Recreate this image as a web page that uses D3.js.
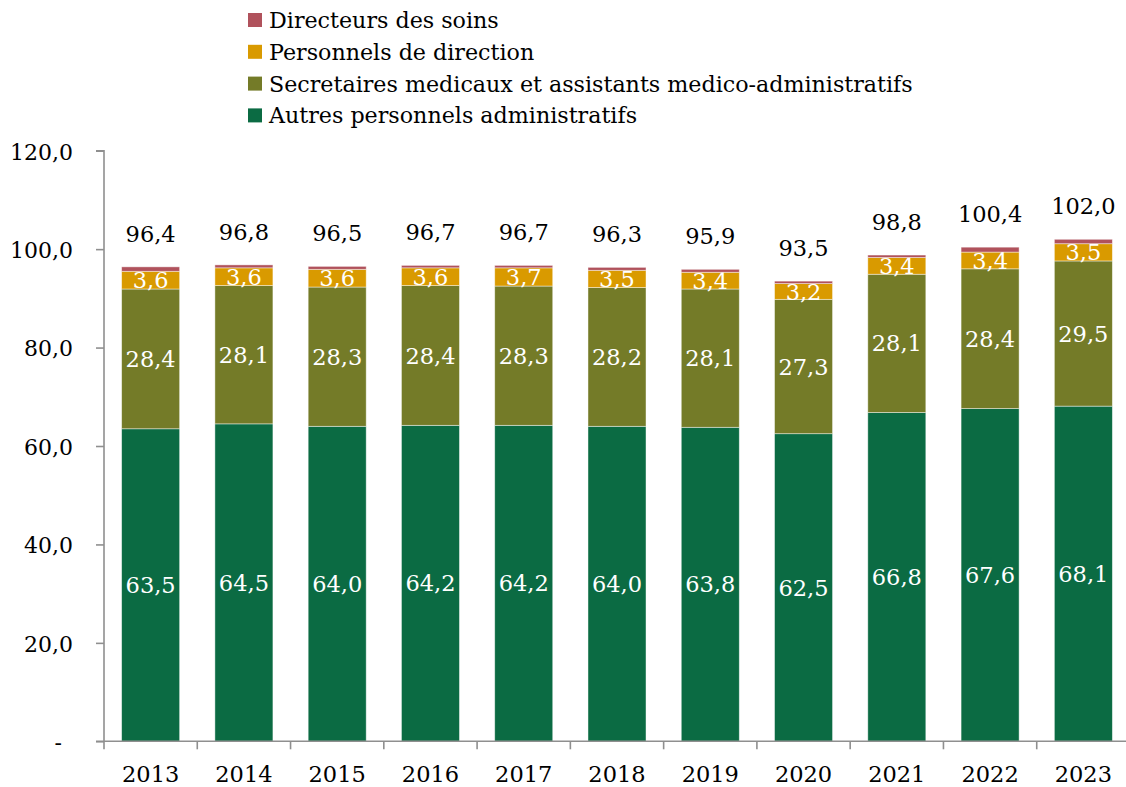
<!DOCTYPE html>
<html>
<head>
<meta charset="utf-8">
<script src="https://cdn.jsdelivr.net/npm/d3@7"></script>
<style>
    body { margin: 0; background: #fff; }
    text { font-family: "DejaVu Serif", serif; }
</style>
</head>
<body>
<div id="chart"></div>
<script>

//data
const years = ["2013", "2014", "2015", "2016", "2017", "2018", "2019", "2020", "2021", "2022", "2023"];
const autres = [63.5, 64.5, 64.0, 64.2, 64.2, 64.0, 63.8, 62.5, 66.8, 67.6, 68.1];
const secretaires = [28.4, 28.1, 28.3, 28.4, 28.3, 28.2, 28.1, 27.3, 28.1, 28.4, 29.5];
const direction = [3.6, 3.6, 3.6, 3.6, 3.7, 3.5, 3.4, 3.2, 3.4, 3.4, 3.5];
const soins = [0.9, 0.6, 0.6, 0.5, 0.5, 0.6, 0.6, 0.5, 0.5, 1.0, 0.9];
const yTicks = [0, 20, 40, 60, 80, 100, 120];

//series from bottom to top
const series = [
    { name: "Autres personnels administratifs", values: autres, color: "#0b6b43", label: true },
    { name: "Secretaires medicaux et assistants medico-administratifs", values: secretaires, color: "#747b28", label: true },
    { name: "Personnels de direction", values: direction, color: "#d99a00", label: true },
    { name: "Directeurs des soins", values: soins, color: "#b0525c", label: false }
];

const width = 1126, height = 787;

const fmt = v => d3.format(".1f")(v).replace(".", ",");

const svg = d3.select("#chart")
    .append("svg")
    .attr("width", width)
    .attr("height", height);

//scales
const x = d3.scaleBand()
    .domain(years)
    .range([104, 1130])
    .paddingInner(0.378)
    .paddingOuter(0.189);

const y = d3.scaleLinear()
    .domain([0, 120])
    .range([741.3, 150.7]);

//stack the data
let rows = years.map(function (year, i) {
    let row = { year: year };
    series.forEach(s => row[s.name] = s.values[i]);
    return row;
});

const stacked = d3.stack()
    .keys(series.map(s => s.name))(rows);

//y axis
const yAxis = svg.append("g")
    .attr("transform", "translate(104,0)")
    .call(d3.axisLeft(y)
        .tickValues(yTicks)
        .tickSize(8)
        .tickPadding(23)
        .tickFormat(d => d == 0 ? "-" : fmt(d)));

yAxis.selectAll("path, line")
    .attr("stroke", "#8f8f8f")
    .attr("stroke-width", 1.6);

yAxis.selectAll("text")
    .style("font-family", "DejaVu Serif")
    .style("font-size", "22px")
    .attr("fill", "#000")
    .attr("dy", "0.38em")
    .filter(d => d == 0)
    .attr("x", -42);

yAxis.select(".domain")
    .attr("d", "M-8," + y(120) + "H0V" + y(0));

//bars
series.forEach(function (s, k) {

    let layer = svg.append("g");

    layer.selectAll("rect")
        .data(stacked[k])
        .enter()
        .append("rect")
        .attr("x", d => x(d.data.year))
        .attr("width", x.bandwidth())
        .attr("y", d => y(d[1]))
        .attr("height", d => y(d[0]) - y(d[1]))
        .attr("fill", s.color)
        .attr("stroke", "#ffffff")
        .attr("stroke-opacity", 0.55)
        .attr("stroke-width", 0.8);

    if (s.label) {
        layer.selectAll("text")
            .data(stacked[k])
            .enter()
            .append("text")
            .attr("x", d => x(d.data.year) + x.bandwidth() / 2)
            .attr("y", d => (y(d[0]) + y(d[1])) / 2)
            .attr("dy", "0.36em")
            .attr("text-anchor", "middle")
            .attr("fill", "#fff")
            .style("font-size", "22.5px")
            .text(d => fmt(d[1] - d[0]));
    }
});

//totals above the bars
svg.append("g")
    .selectAll("text")
    .data(stacked[stacked.length - 1])
    .enter()
    .append("text")
    .attr("x", d => x(d.data.year) + x.bandwidth() / 2)
    .attr("y", d => y(d[1]) - 25)
    .attr("text-anchor", "middle")
    .attr("fill", "#000")
    .style("font-size", "22.5px")
    .text(d => fmt(d[1]));

//x axis: line, ticks between the years, labels
const xAxis = svg.append("g");

xAxis.append("line")
    .attr("x1", 96)
    .attr("x2", width)
    .attr("y1", y(0))
    .attr("y2", y(0))
    .attr("stroke", "#8f8f8f")
    .attr("stroke-width", 1.6);

const edges = years.map(d => x(d) - x.step() * x.paddingInner() / 2);

xAxis.selectAll(".tick")
    .data(edges)
    .enter()
    .append("line")
    .attr("x1", d => d)
    .attr("x2", d => d)
    .attr("y1", y(0))
    .attr("y2", y(0) + 8)
    .attr("stroke", "#8f8f8f")
    .attr("stroke-width", 1.6);

xAxis.selectAll("text")
    .data(years)
    .enter()
    .append("text")
    .attr("x", d => x(d) + x.bandwidth() / 2)
    .attr("y", 782)
    .attr("text-anchor", "middle")
    .attr("fill", "#000")
    .style("font-size", "22.5px")
    .text(d => d);

//legend, top entry is the top of the stack
const legend = svg.append("g")
    .selectAll("g")
    .data(series.slice().reverse())
    .enter()
    .append("g")
    .attr("transform", (d, i) => "translate(248," + (20 + i * 31.8) + ")");

legend.append("rect")
    .attr("x", 0)
    .attr("y", -7)
    .attr("width", 14)
    .attr("height", 14)
    .attr("fill", d => d.color);

legend.append("text")
    .attr("x", 21)
    .attr("dy", "0.36em")
    .attr("fill", "#000")
    .style("font-size", "22.2px")
    .text(d => d.name);

</script>
</body>
</html>
